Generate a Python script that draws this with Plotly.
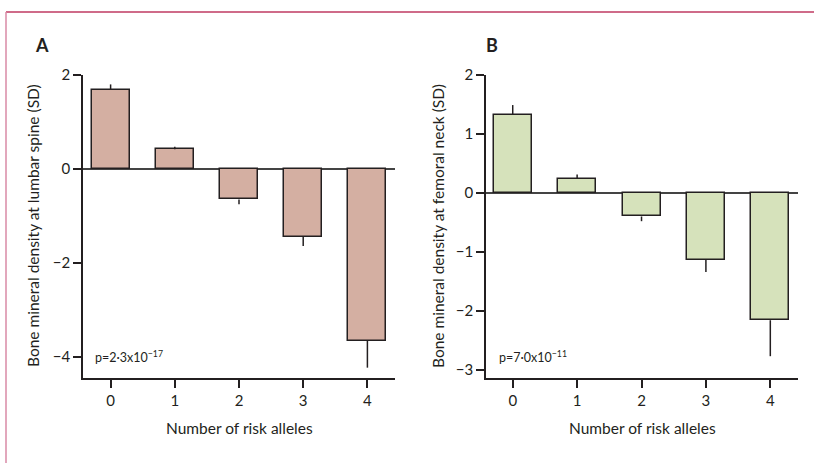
import plotly.graph_objects as go

# ---- data ----
alleles = [0, 1, 2, 3, 4]
tick_labels = ["0", "1", "2", "3", "4"]
lumbar_mean = [1.68, 0.42, -0.65, -1.45, -3.66]
lumbar_err = [0.12, 0.05, 0.10, 0.19, 0.57]
femoral_mean = [1.33, 0.24, -0.40, -1.14, -2.16]
femoral_err = [0.16, 0.07, 0.08, 0.20, 0.61]
lumbar_ticks = [2, 0, -2, -4]
femoral_ticks = [2, 1, 0, -1, -2, -3]

W, H = 814, 463
INK = "#231f20"
FONT = "Lato"

def up(v, e):
    return [x if m >= 0 else 0 for m, x in zip(v, e)]

def down(v, e):
    return [x if m < 0 else 0 for m, x in zip(v, e)]

fig = go.Figure()
for vals, errs, color, xa, ya in [
    (lumbar_mean, lumbar_err, "#d4afa2", "x", "y"),
    (femoral_mean, femoral_err, "#d6e2bb", "x2", "y2"),
]:
    fig.add_trace(go.Bar(
        x=alleles, y=vals, width=0.59, xaxis=xa, yaxis=ya,
        marker=dict(color=color, line=dict(color=INK, width=1.5)),
        error_y=dict(type="data", symmetric=False, array=up(vals, errs),
                     arrayminus=down(vals, errs), color=INK, thickness=1.5, width=0),
        showlegend=False,
    ))

px = lambda x: x / W
py = lambda y: 1 - y / H

ydom = [py(378), py(75)]
axis_common = dict(showline=True, linecolor=INK, linewidth=1.5, ticks="outside",
                   ticklen=8, tickwidth=1.5, tickcolor=INK, showgrid=False,
                   automargin=False, tickfont=dict(family=FONT, size=15, color=INK))

fig.update_layout(
    width=W, height=H, margin=dict(l=0, r=0, t=0, b=0),
    paper_bgcolor="white", plot_bgcolor="white", bargap=0,
    xaxis=dict(domain=[px(83), px(395)], range=[-0.43, 4.43], tickvals=alleles,
               ticktext=tick_labels, zeroline=False, anchor="y", **axis_common),
    yaxis=dict(domain=ydom, range=[-4.45, 2], tickvals=lumbar_ticks,
               zeroline=True, zerolinecolor="#444444", zerolinewidth=1.5,
               anchor="x", **axis_common),
    xaxis2=dict(domain=[px(486), px(798)], range=[-0.415, 4.43], tickvals=alleles,
                ticktext=tick_labels, zeroline=False, anchor="y2", **axis_common),
    yaxis2=dict(domain=ydom, range=[-3.14, 2], tickvals=femoral_ticks,
                zeroline=True, zerolinecolor="#444444", zerolinewidth=1.5,
                anchor="x2", **axis_common),
)

fnt = dict(family=FONT, size=15.5, color=INK)
ann = [
    dict(x=px(42), y=py(45), text="<b>A</b>", font=dict(family=FONT, size=18, color=INK)),
    dict(x=px(492), y=py(45), text="<b>B</b>", font=dict(family=FONT, size=18, color=INK)),
    dict(x=px(33), y=py(226), text="Bone mineral density at lumbar spine (SD)", textangle=-90, font=fnt),
    dict(x=px(438), y=py(226), text="Bone mineral density at femoral neck (SD)", textangle=-90, font=fnt),
    dict(x=px(239), y=py(428), text="Number of risk alleles", font=fnt),
    dict(x=px(642), y=py(428), text="Number of risk alleles", font=fnt),
    dict(x=px(93), y=py(356), text="p=2·3x10<sup>−17</sup>", xanchor="left", font=dict(family=FONT, size=12.5, color=INK)),
    dict(x=px(497), y=py(356), text="p=7·0x10<sup>−11</sup>", xanchor="left", font=dict(family=FONT, size=12.5, color=INK)),
]
for a in ann:
    a.setdefault("xanchor", "center")
    fig.add_annotation(xref="paper", yref="paper", yanchor="middle", showarrow=False, **a)

fig.add_shape(type="line", xref="paper", yref="paper", x0=px(6), x1=1, y0=py(12), y1=py(12),
              line=dict(color="#bf3a62", width=1.5))
fig.add_shape(type="line", xref="paper", yref="paper", x0=px(6), x1=px(6), y0=py(12), y1=0,
              line=dict(color="#d98aa6", width=1.5))

fig.write_html("out.html", config={"displayModeBar": False},
               post_script="document.body.style.margin='0px';")
